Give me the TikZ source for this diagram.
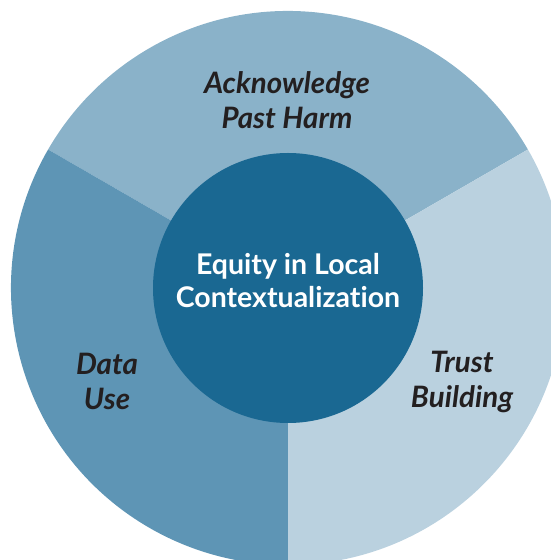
\documentclass[tikz,border=0pt]{standalone}
\usepackage{fontspec}
\setmainfont{Lato}[Ligatures={NoCommon,NoRare}]
\definecolor{hubblue}{RGB}{26,104,146}
\definecolor{harmblue}{RGB}{138,178,201}
\definecolor{datablue}{RGB}{94,149,181}
\definecolor{trustblue}{RGB}{186,209,223}
\definecolor{labelink}{RGB}{35,31,32}
\tikzset{
  ringlabel/.style={align=center, text=labelink, font=\fontsize{29.5}{35}\selectfont\bfseries\itshape},
  hublabel/.style={align=center, text=white, font=\fontsize{28.5}{33}\selectfont\bfseries}
}
\begin{document}
\begin{tikzpicture}[x=1pt, y=1pt]
    \useasboundingbox (0,0) rectangle (551,560);
    \clip (0,0) rectangle (551,560);
    \coordinate (c) at (288,272);
    % outer ring, three sectors
    \fill[harmblue] (c) -- ++(30:277) arc[start angle=30, end angle=150, radius=277] -- cycle;
    \fill[datablue] (c) -- ++(150:277) arc[start angle=150, end angle=270, radius=277] -- cycle;
    \fill[trustblue] (c) -- ++(270:277) arc[start angle=270, end angle=390, radius=277] -- cycle;
    % inner disc
    \node[circle, fill=hubblue, minimum size=270pt, inner sep=0pt] (hub) at (c) {};
    \node[hublabel] (hubtext) at (288,279) {Equity in Local\\Contextualization};

    \node[ringlabel] (harm) at (287,460) {Acknowledge\\Past Harm};
    \node[ringlabel] (data) at (107,179) {Data\\Use};
    \node[ringlabel] (trust) at (462,178) {Trust\\Building};
\end{tikzpicture}
\end{document}
